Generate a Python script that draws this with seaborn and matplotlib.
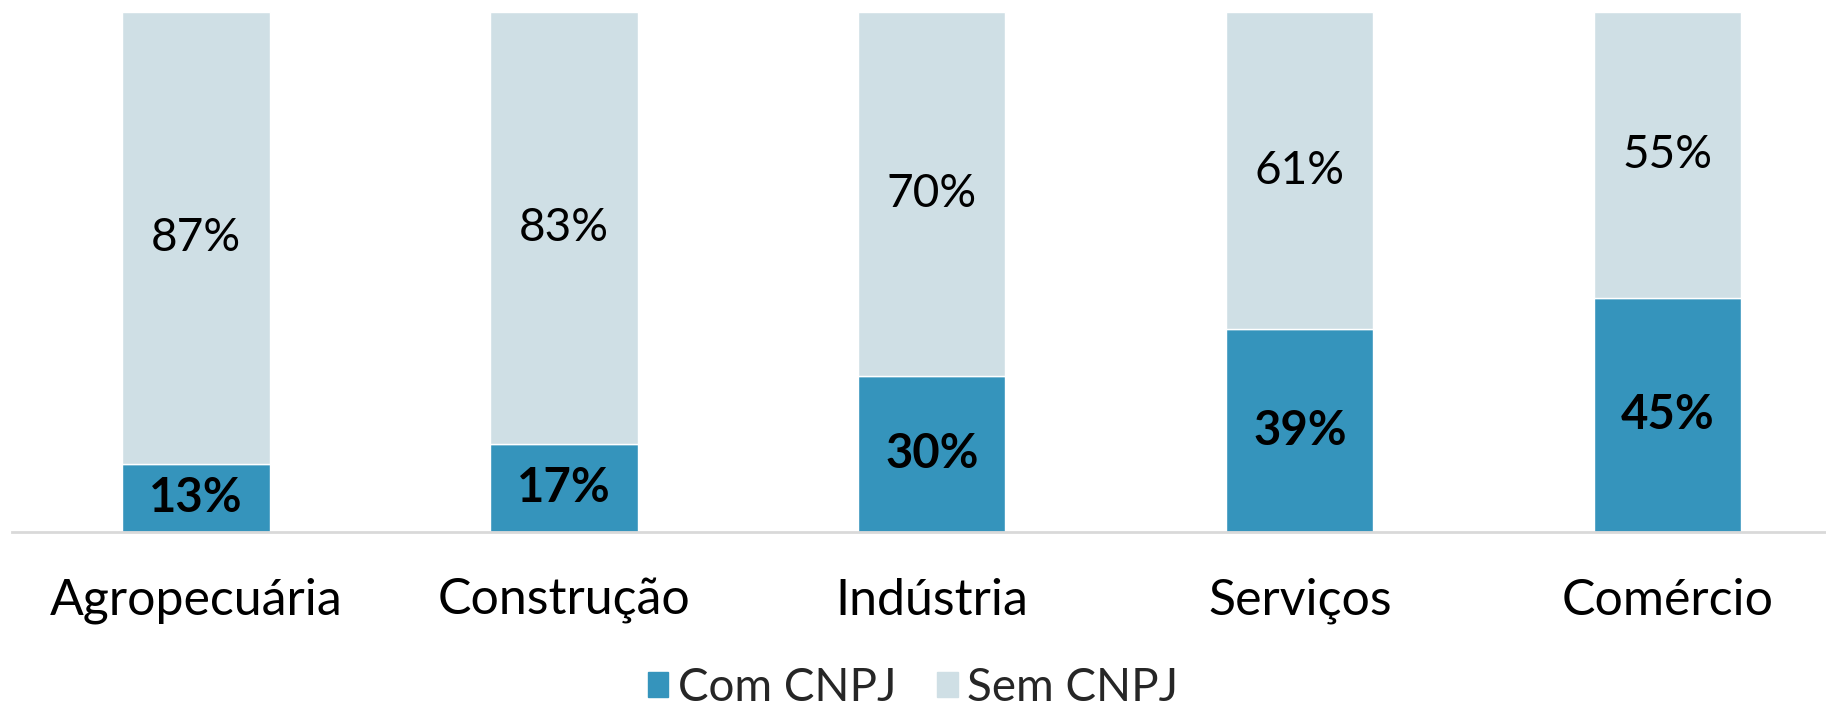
import matplotlib.pyplot as plt
import seaborn as sns
from matplotlib.patches import Patch

# Data
setores = ["Agropecuária", "Construção", "Indústria", "Serviços", "Comércio"]
com_cnpj = [13, 17, 30, 39, 45]
sem_cnpj = [87, 83, 70, 61, 55]

cor_com = "#3594BC"
cor_sem = "#CFDFE5"

sns.set_theme(style="white")
plt.rcParams["font.family"] = ["Lato", "DejaVu Sans"]

fig = plt.figure(figsize=(18.26, 7.08), dpi=100)
ax = fig.add_axes([12 / 1826, 176 / 708, 1 - 12 / 1826, 520 / 708])

# Com CNPJ at the bottom, Sem CNPJ stacked on top
sns.barplot(x=setores, y=com_cnpj, color=cor_com, width=0.4, saturation=1, ax=ax)
sns.barplot(x=setores, y=sem_cnpj, color=cor_sem, width=0.4, saturation=1,
            bottom=com_cnpj, ax=ax)

ax.bar_label(ax.containers[0], labels=[f"{v}%" for v in com_cnpj],
             label_type="center", fontsize=34, fontweight="bold", color="black")
ax.bar_label(ax.containers[1], labels=[f"{v}%" for v in sem_cnpj],
             label_type="center", fontsize=33, color="black")

ax.set_ylim(0, 100)
ax.set_xlim(-0.5, 4.43)
ax.set_yticks([])
ax.set_xlabel("")
ax.set_ylabel("")
ax.tick_params(axis="x", length=0, pad=33, labelsize=36, labelcolor="black")
for s in ["top", "right", "left"]:
    ax.spines[s].set_visible(False)
ax.spines["bottom"].set_color("#D9D9D9")
ax.spines["bottom"].set_linewidth(2)

handles = [Patch(color=cor_com, label="Com CNPJ"), Patch(color=cor_sem, label="Sem CNPJ")]
fig.legend(handles=handles, loc="center", bbox_to_anchor=(0.5, 20 / 708), ncol=2,
           frameon=False, fontsize=33, handlelength=0.45, handleheight=0.45,
           handletextpad=0.2, columnspacing=0.9)

fig.savefig("out.png", dpi=100)
